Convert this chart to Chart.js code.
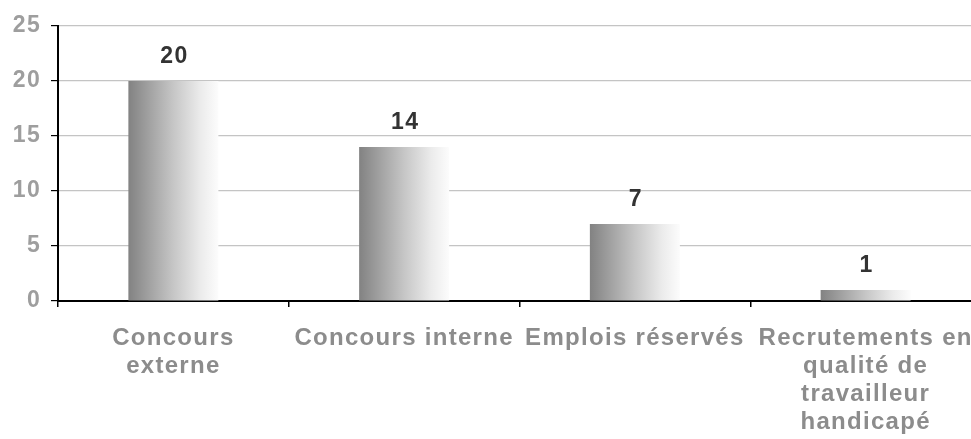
<!DOCTYPE html>
<html>
<head>
<meta charset="utf-8">
<script src="https://cdn.jsdelivr.net/npm/chart.js@4"></script>
<style>
html,body{margin:0;padding:0;background:#fff;overflow:hidden;width:971px;height:439px;}
#wrap{width:1000px;height:439px;position:relative;}
</style>
</head>
<body>
<div id="wrap"><canvas id="c" width="1000" height="439"></canvas></div>
<script>
const categories = [
  ["Concours", "externe"],
  "Concours interne",
  "Emplois réservés",
  ["Recrutements en", "qualité de", "travailleur", "handicapé"]
];
const values = [20, 14, 7, 1];
const yTicks = [0, 5, 10, 15, 20, 25];

const BAR_PCT = 0.39;
const FONT = '"Liberation Sans", Arial, sans-serif';

function barGradient(ctx) {
  const chart = ctx.chart;
  const xs = chart.scales.x;
  if (!chart.chartArea || !xs) return '#a0a0a0';
  const cat = (xs.right - xs.left) / categories.length;
  const cx = xs.getPixelForValue(ctx.dataIndex);
  const w = cat * BAR_PCT;
  const g = chart.ctx.createLinearGradient(cx - w / 2, 0, cx + w / 2, 0);
  g.addColorStop(0, '#828282');
  g.addColorStop(0.5, '#c6c6c6');
  g.addColorStop(0.8, '#ebebeb');
  g.addColorStop(1, '#fcfcfc');
  return g;
}

const spacing = {
  id: 'spacing',
  beforeInit(chart) { chart.ctx.letterSpacing = '1.3px'; },
  beforeLayout(chart) { chart.ctx.letterSpacing = '1.3px'; },
  beforeDraw(chart) { chart.ctx.letterSpacing = '1.3px'; }
};

const valueLabels = {
  id: 'valueLabels',
  afterDatasetsDraw(chart) {
    const c = chart.ctx;
    const meta = chart.getDatasetMeta(0);
    c.save();
    c.font = 'bold 23px ' + FONT;
    c.fillStyle = '#333333';
    c.textAlign = 'center';
    c.textBaseline = 'alphabetic';
    meta.data.forEach((bar, i) => {
      c.fillText(String(values[i]), bar.x + 1, bar.y - 18);
    });
    c.restore();
  }
};

new Chart(document.getElementById('c'), {
  type: 'bar',
  data: {
    labels: categories,
    datasets: [{
      data: values,
      backgroundColor: barGradient,
      borderWidth: 0,
      categoryPercentage: 1,
      barPercentage: BAR_PCT
    }]
  },
  options: {
    responsive: false,
    animation: false,
    events: [],
    layout: { padding: { top: 26, right: 19, left: 0, bottom: 0 } },
    plugins: { legend: { display: false }, tooltip: { enabled: false } },
    scales: {
      x: {
        grid: {
          offset: true,
          drawOnChartArea: false,
          drawTicks: true,
          tickLength: 6,
          color: '#000',
          tickColor: '#000',
          lineWidth: 1.5
        },
        border: { color: '#000', width: 2 },
        ticks: {
          color: '#8c8c8c',
          font: { family: FONT, size: 24, weight: 'bold', lineHeight: 1.167 },
          padding: 17,
          maxRotation: 0,
          autoSkip: false
        },
        afterFit(s) { s.height = 138; }
      },
      y: {
        min: 0,
        max: 25,
        afterBuildTicks(s) { s.ticks = yTicks.map(v => ({ value: v })); },
        grid: {
          color: '#c4c4c4',
          lineWidth: 1.2,
          drawTicks: true,
          tickLength: 7,
          tickColor: '#000'
        },
        border: { color: '#000', width: 2 },
        ticks: {
          color: '#9e9e9e',
          font: { family: FONT, size: 23, weight: 'bold' },
          padding: 10
        },
        afterFit(s) { s.width = 58; }
      }
    }
  },
  plugins: [spacing, valueLabels]
});
</script>
</body>
</html>
